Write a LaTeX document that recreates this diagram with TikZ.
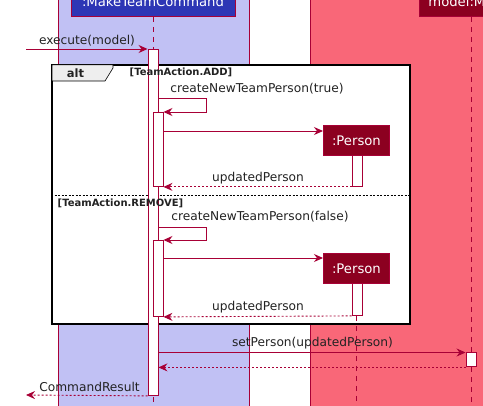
\documentclass[tikz,border=0pt]{standalone}
\usepackage{fontspec}
\setmainfont{DejaVu Sans}
\usetikzlibrary{arrows.meta}
\definecolor{lc}{HTML}{A80036}
\definecolor{hdrblue}{HTML}{2D36B5}
\definecolor{lav}{HTML}{C1C1F4}
\definecolor{rose}{HTML}{F96778}
\definecolor{dred}{HTML}{8C0020}
\definecolor{tabgray}{HTML}{EEEEEE}
\definecolor{txt}{HTML}{222222}
\begin{document}
\begin{tikzpicture}[x=1pt,y=-1pt,
  msg/.style={draw=lc, line width=0.9pt, -{Stealth[length=9pt,width=8pt,inset=3pt]}},
  ret/.style={msg, dash pattern=on 2pt off 2pt},
  life/.style={draw=lc, line width=0.9pt, dash pattern=on 5pt off 5pt},
  act/.style={draw=lc, fill=white, line width=0.9pt, minimum width=10pt, inner sep=0pt, anchor=north},
  lbl/.style={font=\fontsize{12.2}{14}\selectfont, text=txt, inner sep=0pt},
  guard/.style={font=\bfseries\fontsize{10}{12}\selectfont, text=txt, inner sep=0pt},
  hdr/.style={draw=lc, line width=0.9pt, inner sep=0pt, anchor=south},
  hdrtext/.style={font=\fontsize{13.2}{15}\selectfont, text=white, inner sep=0pt, anchor=base},
  objbox/.style={draw=lc, fill=dred, line width=0.9pt, text=white, font=\fontsize{13.2}{15}\selectfont, minimum width=66pt, minimum height=30pt, inner sep=0pt, anchor=north west}
]
\useasboundingbox (0,0) rectangle (483,406);
\clip (0,0) rectangle (483,406);
% boxes (regions)
\draw[lc, line width=0.9pt, fill=lav] (58,-5) rectangle (249,412);
\draw[lc, line width=0.9pt, fill=rose] (310,-5) rectangle (500,412);
% headers
\node[hdr, fill=hdrblue, minimum width=164pt, minimum height=40pt] (mtc) at (153,17) {};
\node[hdrtext] (mtctext) at (153,7) {:MakeTeamCommand};
\node[hdr, fill=dred, minimum width=104pt, minimum height=40pt] (mdl) at (471,17) {};
\node[hdrtext] (mdltext) at (471,7) {model:Model};
% lifelines
\draw[life] (mtc.south) -- (153,410);
\draw[life] (mdl.south) -- (471,410);
% alt frame
\node[draw=black, line width=1.6pt, fill=white, minimum width=358pt, minimum height=259pt, inner sep=0pt, anchor=north west] (frame) at (51,64) {};
\draw[black, line width=0.6pt, fill=tabgray] (52,64.8) -- (113,64.8) -- (113,68) -- (105,81) -- (52,81) -- cycle;
\node[font=\bfseries\fontsize{11.5}{13}\selectfont, text=txt, inner sep=0pt] (alt) at (75.5,73) {alt};
\draw[black, line width=0.7pt, dash pattern=on 2pt off 1.5pt] (frame.west |- 0,195.5) -- (frame.east |- 0,195.5);
% person objects
\node[objbox] (p1) at (323,125) {:Person};
\node[objbox] (p2) at (323,253) {:Person};
\draw[life] (356,316) -- (356,410);
% activations
\node[act, minimum height=346pt] (a1) at (153,49) {};
\node[act, minimum height=74pt] (a2) at (158,112) {};
\node[act, minimum height=76pt] (a3) at (158,240) {};
\node[act, minimum height=31pt] (pa1) at (357,155) {};
\node[act, minimum height=32pt] (pa2) at (357,283) {};
\node[act, minimum height=14pt] (ma) at (471,352.5) {};
% guards (drawn over the bars)
\node[guard] (g1) at (181,72.7) {[TeamAction.ADD]};
\node[guard] (g2) at (120.5,203.3) {[TeamAction.REMOVE]};
% messages
\coordinate (start) at (26,49);
\draw[msg] (start) -- (a1.north west);
\node[lbl] (l1) at (87,40.7) {execute(model)};
% self message 1
\draw[msg] (a1.east |- 0,98) -- (206,98) -- (206,112) -- (a2.north east);
\node[lbl] (l2) at (257,89) {createNewTeamPerson(true)};
\coordinate (c1) at ([yshift=-6pt]p1.north west);
\draw[msg] (a2.east |- c1) -- (c1);
\draw[ret] (pa1.south west) -- (a2.south east);
\node[lbl] (l3) at (258,178) {updatedPerson};
% self message 2
\draw[msg] (a1.east |- 0,227) -- (206,227) -- (206,240) -- (a3.north east);
\node[lbl] (l4) at (260,217) {createNewTeamPerson(false)};
\coordinate (c2) at ([yshift=-5pt]p2.north west);
\draw[msg] (a3.east |- c2) -- (c2);
\draw[ret] (pa2.south west) -- (a3.south east);
\node[lbl] (l5) at (258,306.7) {updatedPerson};
% setPerson
\draw[msg] (a1.east |- ma.north west) -- (ma.north west);
\node[lbl] (l6) at (312.5,343) {setPerson(updatedPerson)};
\draw[ret] (ma.south west) -- (a1.east |- ma.south west);
% result
\coordinate (end) at (26,395);
\draw[ret] (a1.south west) -- (end);
\node[lbl] (l7) at (89.5,386.7) {CommandResult};
\end{tikzpicture}
\end{document}
